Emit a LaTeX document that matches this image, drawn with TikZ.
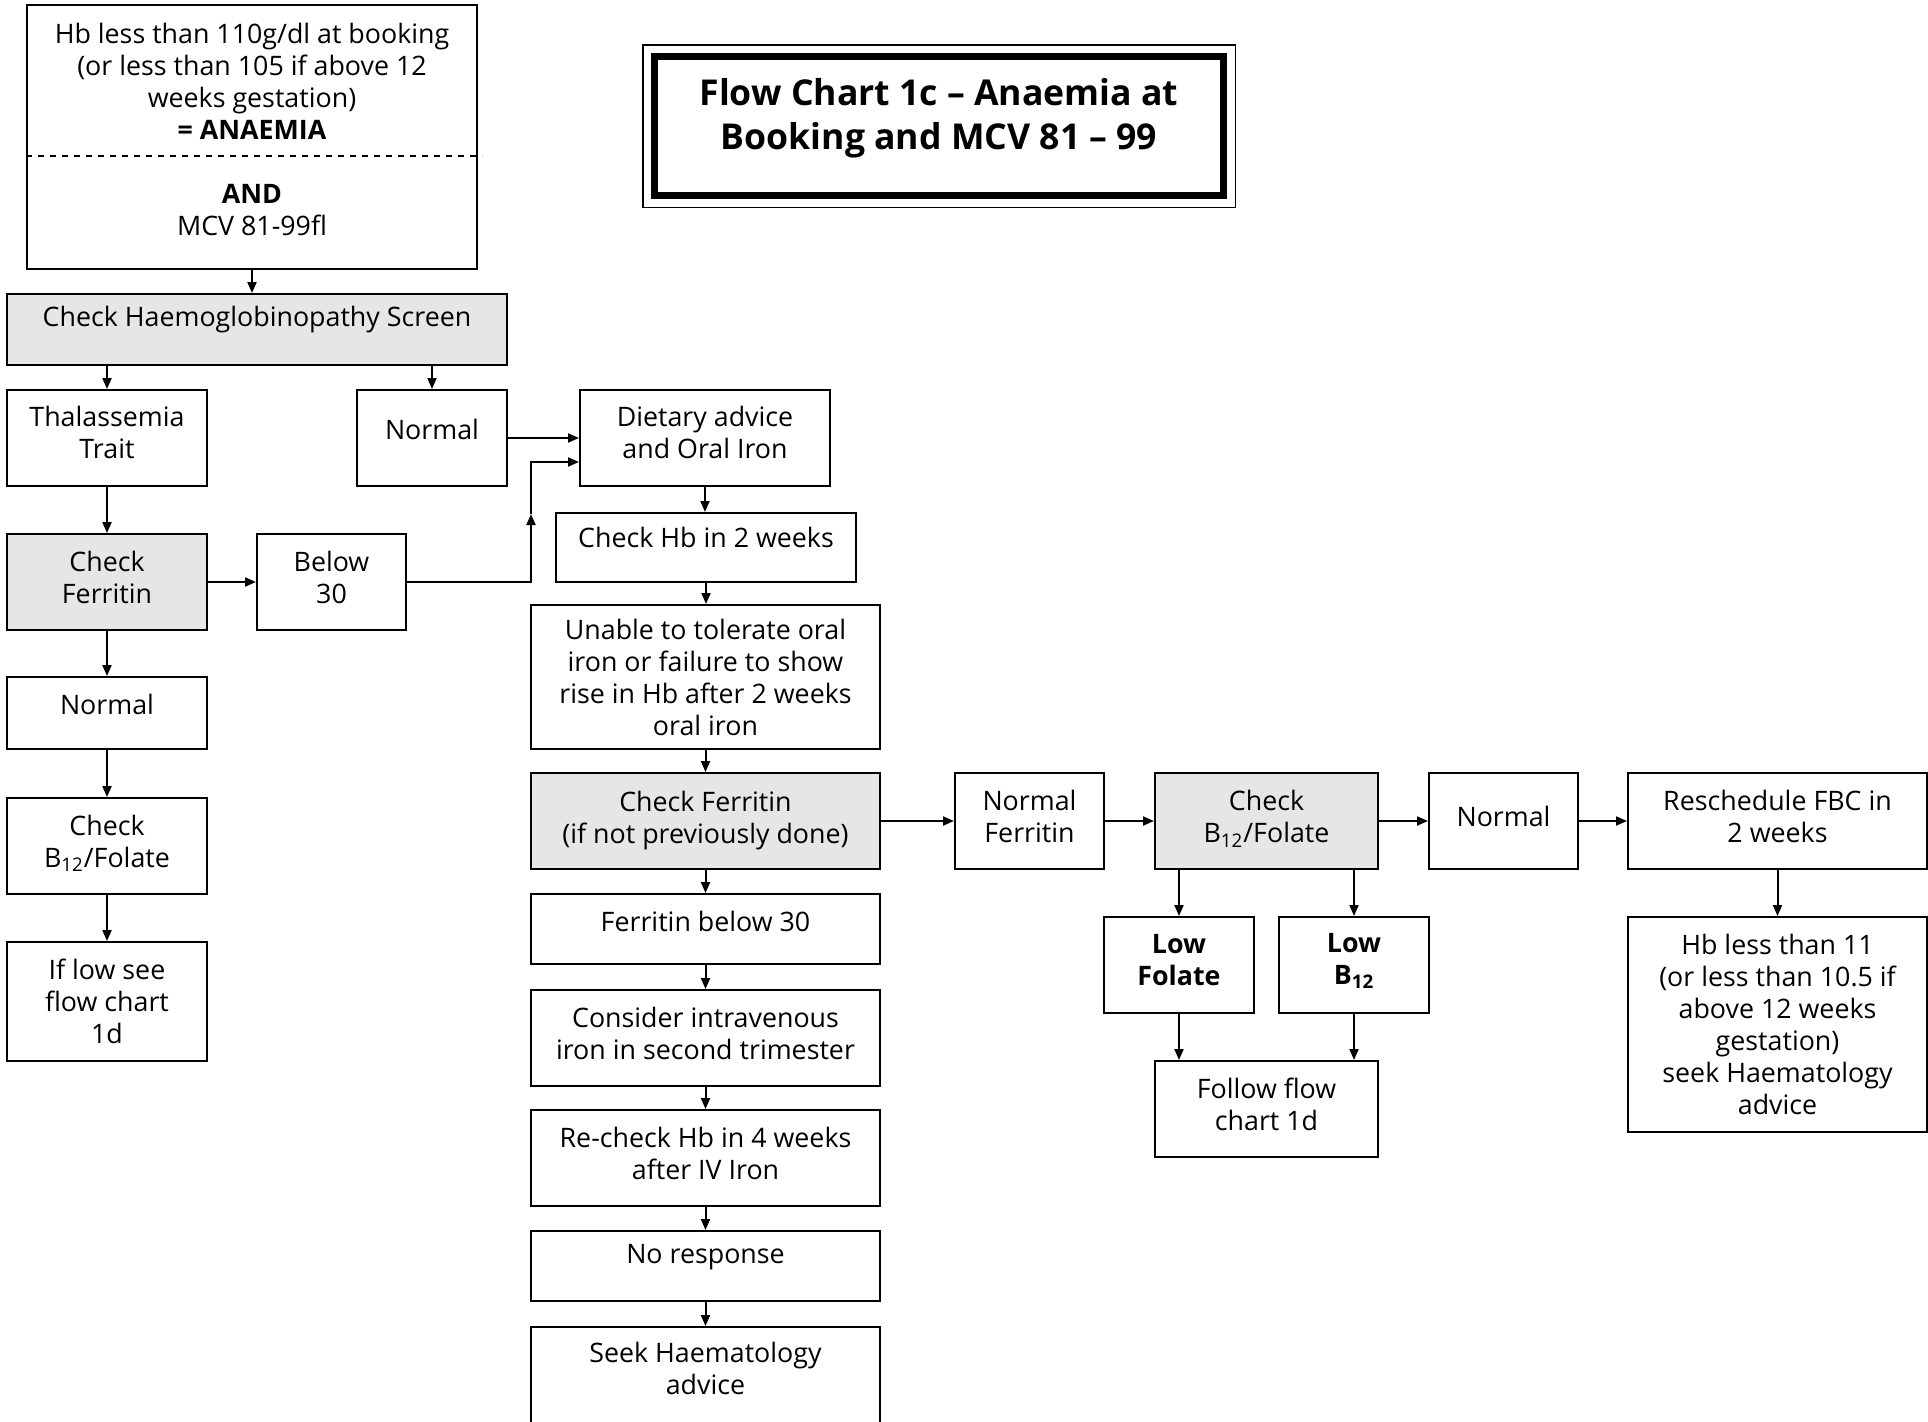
\documentclass[tikz,border=0pt]{standalone}
\usepackage{fontspec}
\setmainfont{Open Sans}
\usetikzlibrary{arrows.meta, positioning, calc}
\definecolor{screengray}{RGB}{230,230,230}
\tikzset{
  box/.style={rectangle, draw=black, line width=1pt, align=center,
    inner sep=2pt, font=\fontsize{13.4}{16}\selectfont},
  greybox/.style={box, fill=screengray},
  boldbox/.style={box, font=\fontsize{13.4}{16}\selectfont\bfseries},
  textlift/.style={text depth=#1},
  arrow/.style={-{Triangle[length=5.5pt,width=4.5pt]}, line width=1pt},
  titlebox/.style={rectangle, draw=black, line width=3.5pt, align=center,
    font=\fontsize{17.8}{22}\selectfont\bfseries},
}

\begin{document}
\begin{tikzpicture}[x=0.5pt, y=-0.5pt]
  \useasboundingbox (0,0) rectangle (1928,1421);

  % title
  \node[titlebox, minimum width=284.75pt, minimum height=69.75pt, textlift=12pt] (title) at (939,126)
    {Flow Chart 1c -- Anaemia at\\Booking and MCV 81 -- 99};
  \draw[line width=0.75pt] ([xshift=-4pt,yshift=4pt]title.north west)
    rectangle ([xshift=4pt,yshift=-4pt]title.south east);

  % left column
  \node[box, minimum width=225pt, minimum height=132pt, textlift=7.5pt] (book) at (252,137)
    {Hb less than 110g/dl at booking\\(or less than 105 if above 12\\weeks gestation)\\
     \textbf{= ANAEMIA}\\[16pt]\textbf{AND}\\MCV 81-99fl};
  \draw[dashed, line width=1pt] ([yshift=-76pt]book.north west) -- ([yshift=-76pt,xshift=2pt]book.north east);
  \node[greybox, minimum width=250pt, minimum height=35.5pt, textlift=13pt] (haemo) at (257,329.5)
    {Check Haemoglobinopathy Screen};
  \node[box, minimum width=100pt, minimum height=48pt, textlift=5.6pt] (thal) at (107,438)
    {Thalassemia\\Trait};
  \node[box, minimum width=75pt, minimum height=48pt, textlift=8.6pt] (normA) at (432,438)
    {Normal};
  \node[greybox, minimum width=100pt, minimum height=48pt, textlift=5pt] (ferrL) at (107,582)
    {Check\\Ferritin};
  \node[box, minimum width=74.5pt, minimum height=48pt, textlift=5pt] (below) at (331.5,582)
    {Below\\30};
  \node[box, minimum width=100pt, minimum height=36pt, textlift=8.6pt] (normL) at (107,713)
    {Normal};
  \node[box, minimum width=100pt, minimum height=48pt, textlift=5pt] (b12L) at (107,846)
    {Check\\B\textsubscript{12}/Folate};
  \node[box, minimum width=100pt, minimum height=59.5pt] (iflow) at (107,1001.5)
    {If low see\\flow chart\\1d};

  % centre column
  \node[box, minimum width=125pt, minimum height=48pt, textlift=5.6pt] (diet) at (705,438)
    {Dietary advice\\and Oral Iron};
  \node[box, minimum width=150pt, minimum height=34.5pt, textlift=10pt] (hbtwo) at (706,547.5)
    {Check Hb in 2 weeks};
  \node[box, minimum width=174.5pt, minimum height=72pt] (unable) at (705.5,677)
    {Unable to tolerate oral\\iron or failure to show\\rise in Hb after 2 weeks\\oral iron};
  \node[greybox, minimum width=174.5pt, minimum height=48pt, textlift=4pt] (ferrC) at (705.5,821)
    {Check Ferritin\\(if not previously done)};
  \node[box, minimum width=174.5pt, minimum height=35pt, textlift=8pt] (fbelow) at (705.5,929)
    {Ferritin below 30};
  \node[box, minimum width=174.5pt, minimum height=48pt, textlift=5pt] (consider) at (705.5,1038)
    {Consider intravenous\\iron in second trimester};
  \node[box, minimum width=174.5pt, minimum height=48pt, textlift=5pt] (recheck) at (705.5,1158)
    {Re-check Hb in 4 weeks\\after IV Iron};
  \node[box, minimum width=174.5pt, minimum height=35pt, textlift=12.5pt] (noresp) at (705.5,1266)
    {No response};
  \node[box, minimum width=174.5pt, minimum height=48pt, textlift=6.5pt] (seek) at (705.5,1375)
    {Seek Haematology\\advice};

  % right part
  \node[box, minimum width=74.5pt, minimum height=48pt, textlift=4.4pt] (normF) at (1029.5,821)
    {Normal\\Ferritin};
  \node[greybox, minimum width=111.5pt, minimum height=48pt, textlift=4.5pt] (b12R) at (1266.5,821)
    {Check\\B\textsubscript{12}/Folate};
  \node[box, minimum width=74.5pt, minimum height=48pt, textlift=5pt] (normR) at (1503.5,821)
    {Normal};
  \node[box, minimum width=149.5pt, minimum height=48pt, textlift=4.4pt] (resched) at (1777.5,821)
    {Reschedule FBC in\\2 weeks};
  \node[boldbox, minimum width=75pt, minimum height=48pt, textlift=5pt] (lowF) at (1179,965)
    {Low\\Folate};
  \node[boldbox, minimum width=75pt, minimum height=48pt, textlift=6.5pt] (lowB) at (1354,965)
    {Low\\B\textsubscript{12}};
  \node[box, minimum width=111.5pt, minimum height=48pt, textlift=5pt] (follow) at (1266.5,1109)
    {Follow flow\\chart 1d};
  \node[box, minimum width=149.5pt, minimum height=107.5pt] (hbel) at (1777.5,1024.5)
    {Hb less than 11\\(or less than 10.5 if\\above 12 weeks\\gestation)\\seek Haematology\\advice};

  % connectors
  \draw[arrow] (book.south) -- (book.south |- haemo.north);
  \draw[arrow] (thal.north |- haemo.south) -- (thal.north);
  \draw[arrow] (normA.north |- haemo.south) -- (normA.north);
  \draw[arrow] (normA.east) -- (normA.east -| diet.west);
  \draw[arrow] (thal) -- (ferrL);
  \draw[arrow] (ferrL) -- (below);
  \coordinate (jn) at (531,514);
  \draw[arrow] (below.east) -| (jn);
  \draw[arrow] (jn) |- ([yshift=-12pt]diet.west);
  \draw[arrow] (ferrL) -- (normL);
  \draw[arrow] (normL) -- (b12L);
  \draw[arrow] (b12L) -- (iflow);

  \draw[arrow] (diet.south) -- (diet.south |- hbtwo.north);
  \draw[arrow] (hbtwo.south) -- (hbtwo.south |- unable.north);
  \draw[arrow] (unable) -- (ferrC);
  \draw[arrow] (ferrC) -- (fbelow);
  \draw[arrow] (fbelow) -- (consider);
  \draw[arrow] (consider) -- (recheck);
  \draw[arrow] (recheck) -- (noresp);
  \draw[arrow] (noresp) -- (seek);

  \draw[arrow] (ferrC) -- (normF);
  \draw[arrow] (normF) -- (b12R);
  \draw[arrow] (b12R) -- (normR);
  \draw[arrow] (normR) -- (resched);
  \draw[arrow] (lowF.north |- b12R.south) -- (lowF.north);
  \draw[arrow] (lowB.north |- b12R.south) -- (lowB.north);
  \draw[arrow] (lowF.south) -- (lowF.south |- follow.north);
  \draw[arrow] (lowB.south) -- (lowB.south |- follow.north);
  \draw[arrow] (resched) -- (hbel);
\end{tikzpicture}
\end{document}
